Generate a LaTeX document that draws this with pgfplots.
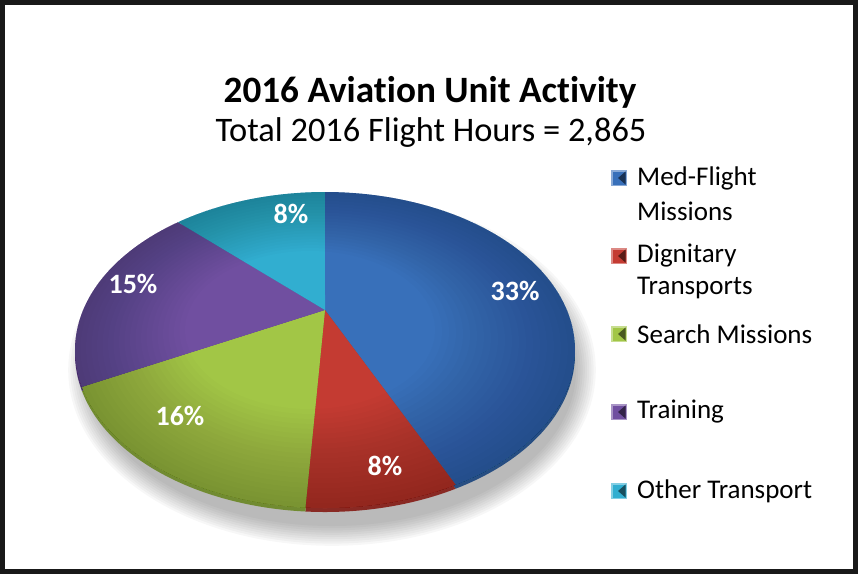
\documentclass[border=0pt]{standalone}
\usepackage{pgfplots}
\pgfplotsset{compat=1.18}
\usepackage{pgfplotstable}
\usepackage{fontspec}
\setmainfont{Carlito}[Ligatures={NoCommon}]
\definecolor{cMed}{HTML}{3870BA}
\definecolor{cDig}{HTML}{C43B32}
\definecolor{cSea}{HTML}{A2C646}
\definecolor{cTra}{HTML}{704FA0}
\definecolor{cOth}{HTML}{31AED0}
\pgfplotstableread[col sep=comma]{
label,value,col
Med-Flight Missions,33,cMed
Dignitary Transports,8,cDig
Search Missions,16,cSea
Training,15,cTra
Other Transport,8,cOth
}\piedata
\newcommand\legmark[2]{%
  \fill[#1!60!white] (axis cs:611,#2-8) rectangle (axis cs:627,#2+8);
  \fill[#1] (axis cs:612.5,#2-6.5) rectangle (axis cs:625.5,#2+6.5);
  \fill[#1!45!black] (axis cs:625.5,#2-6.5) -- (axis cs:618,#2) -- (axis cs:625.5,#2+6.5) -- cycle;
}
\begin{document}
\begin{tikzpicture}
\begin{axis}[at={(0,0)}, anchor=south west, scale only axis,
  width=858pt, height=574pt, xmin=0, xmax=858, ymin=0, ymax=574,
  y dir=reverse, hide axis, clip=false]
% frame
\draw[line width=5pt, black!90] (axis cs:2.5,2.5) rectangle (axis cs:855.5,571.5);
% shadow
\pgfplotsinvokeforeach{0,...,9}{
  \fill[black, opacity=0.03] (axis cs:332,370) ellipse [x radius=244+2.2*#1, y radius=156+2.2*#1];
}
% rim (thickness)
\def\astart{90}
\pgfplotsforeachungrouped \i in {0,...,4}{
  \pgfplotstablegetelem{\i}{value}\of\piedata \let\pval\pgfplotsretval
  \pgfplotstablegetelem{\i}{col}\of\piedata \let\pcol\pgfplotsretval
  \pgfmathsetmacro{\aend}{\astart-\pval/80*360}
  \edef\cmd{\noexpand\addplot[fill=\pcol!70!black, draw=none, domain=\aend:\astart, samples=100, variable=\noexpand\t]
    ({325+250*cos(\noexpand\t)},{354-158*sin(\noexpand\t)}) -- (axis cs:325,314) -- cycle;}
  \cmd
  \let\astart\aend
}
% top surface
\def\astart{90}
\pgfplotsforeachungrouped \i in {0,...,4}{
  \pgfplotstablegetelem{\i}{value}\of\piedata \let\pval\pgfplotsretval
  \pgfplotstablegetelem{\i}{col}\of\piedata \let\pcol\pgfplotsretval
  \pgfmathsetmacro{\aend}{\astart-\pval/80*360}
  \edef\cmd{\noexpand\addplot[fill=\pcol, draw=none, domain=\aend:\astart, samples=100, variable=\noexpand\t]
    ({325+250*cos(\noexpand\t)},{350-158*sin(\noexpand\t)}) -- (axis cs:325,310) -- cycle;}
  \cmd
  \let\astart\aend
}
% soft edge shading (cushion look)
\pgfplotsinvokeforeach{0,...,19}{
  \fill[black, opacity=0.013, even odd rule]
    (axis cs:325,350) ellipse [x radius=250, y radius=158]
    (axis cs:{325-30*(0.5-0.025*#1)},{350-40*(0.5-0.025*#1)}) ellipse [x radius={250*(0.5+0.025*#1)}, y radius={158*(0.5+0.025*#1)}];
}
% percentage labels
\begin{scope}[every node/.style={text=white, font=\bfseries\fontsize{28}{30}\selectfont}]
\node at (axis cs:515,291) {33\%};
\node at (axis cs:385,466) {8\%};
\node at (axis cs:180,416) {16\%};
\node at (axis cs:133,284) {15\%};
\node at (axis cs:291,214) {8\%};
\end{scope}
% titles
\node[font=\bfseries\fontsize{37.2}{40}\selectfont] at (axis cs:430,92) {2016 Aviation Unit Activity};
\node[font=\fontsize{34.4}{36}\selectfont] at (axis cs:431,133) {Total 2016 Flight Hours = 2,865};
% legend
\legmark{cMed}{178}
\legmark{cDig}{256}
\legmark{cSea}{334}
\legmark{cTra}{412}
\legmark{cOth}{491}
\begin{scope}[every node/.style={anchor=west, font=\fontsize{27}{32}\selectfont, inner sep=0pt}]
\node at (axis cs:637,178) {Med-Flight};
\node at (axis cs:637,211) {Missions};
\node at (axis cs:637,256) {Dignitary};
\node at (axis cs:637,288) {Transports};
\node at (axis cs:637,334) {Search Missions};
\node at (axis cs:637,412) {Training};
\node at (axis cs:637,491) {Other Transport};
\end{scope}
\end{axis}
\end{tikzpicture}
\end{document}
